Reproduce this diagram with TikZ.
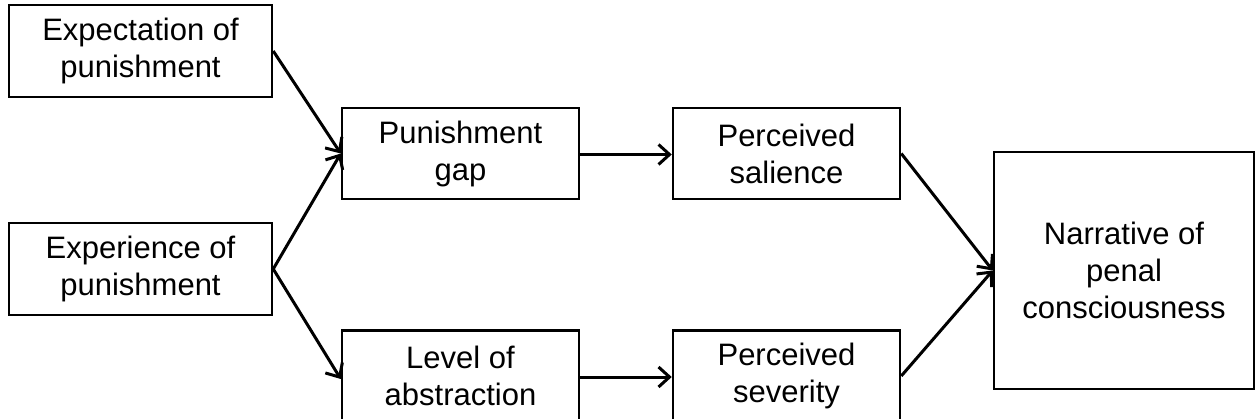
\documentclass[tikz,border=0pt]{standalone}
\usepackage{fontspec}
\setmainfont{Liberation Sans}
\usetikzlibrary{arrows.meta}
\begin{document}
\begin{tikzpicture}[x=1pt,y=-1pt,
  box/.style={draw=black,line width=2.5pt,align=center,inner sep=0pt,
    font=\fontsize{31}{37}\selectfont},
  conn/.style={line width=3pt,-{Straight Barb[length=11pt,width=20pt,line width=3pt]}}]
\useasboundingbox (0,0) rectangle (1255,419);
\node[box,minimum width=263pt,minimum height=92pt] (exp) at (140.5,51) {Expectation of\\punishment};
\node[box,minimum width=263pt,minimum height=92pt] (expr) at (140.5,269) {Experience of\\punishment};
\node[box,minimum width=237pt,minimum height=91pt] (gap) at (460.5,153.5) {Punishment\\gap};
\node[box,minimum width=237pt,minimum height=91pt] (lev) at (460.5,376) {Level of\\abstraction};
\node[box,minimum width=227pt,minimum height=91pt] (sal) at (786.5,153.5) {Perceived\\salience};
\node[box,minimum width=227pt,minimum height=91pt] (sev) at (786.5,376) {Perceived\\severity};
\node[box,minimum width=260pt,minimum height=237pt] (nar) at (1124,270.5) {Narrative of\\penal\\consciousness};
\draw[conn] (exp.east) -- (gap.west);
\draw[conn] (expr.east) -- (gap.west);
\draw[conn] (expr.east) -- ([yshift=-3pt]lev.west);
\draw[conn] ([yshift=-1pt]gap.east) -- ([yshift=-1pt]sal.west);
\draw[conn] ([yshift=-1pt]lev.east) -- ([yshift=-1pt]sev.west);
\draw[conn] (sal.east) -- (nar.west);
\draw[conn] (sev.east) -- (nar.west);
\end{tikzpicture}
\end{document}
